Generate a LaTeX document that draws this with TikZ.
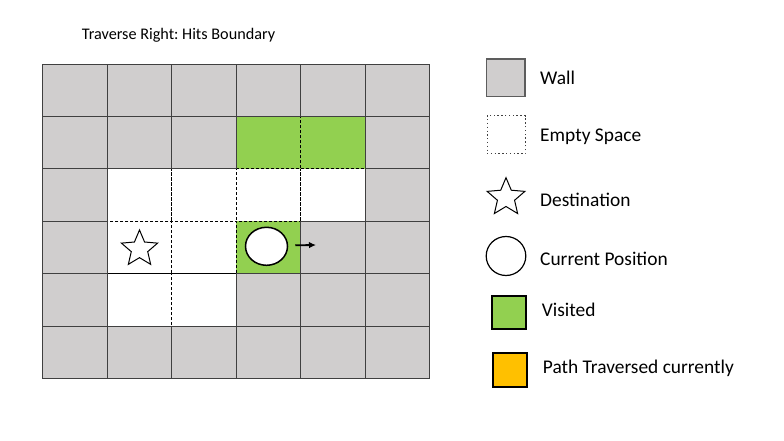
\documentclass[tikz,border=0pt]{standalone}
\usepackage{fontspec}
\setmainfont{Carlito}
\usetikzlibrary{shapes.geometric,arrows.meta}
\definecolor{wallgray}{HTML}{D0CECE}
\definecolor{walledge}{HTML}{404040}
\definecolor{visitgreen}{HTML}{92D050}
\definecolor{pathorange}{HTML}{FFC000}
\frenchspacing
\begin{document}
\begin{tikzpicture}[x=1bp,y=-1bp,
  cellbase/.style={rectangle,inner sep=0pt,outer sep=0pt,minimum width=64.5bp,minimum height=52.4bp},
  wallcell/.style={cellbase,fill=wallgray,draw=walledge,line width=0.9bp},
  emptycell/.style={cellbase,fill=white,draw=black,line width=0.8bp,dash pattern=on 3bp off 2bp},
  visitedcell/.style={cellbase,fill=visitgreen,draw=black,line width=0.8bp,dash pattern=on 3bp off 2bp},
  starmark/.style={star,star points=5,star point ratio=2.2,draw=black,fill=white,line width=1bp,inner sep=0pt,minimum size=38bp},
  posmark/.style={ellipse,draw=black,fill=white,line width=1.5bp,inner sep=0pt},
  legtext/.style={anchor=base west,inner sep=0pt,font=\fontsize{19.4bp}{23bp}\selectfont},
  titletext/.style={anchor=base west,inner sep=0pt,font=\fontsize{16.2bp}{19bp}\selectfont},
]
\useasboundingbox (0,0) rectangle (784,441);
\def\gx{42.5}
\def\gy{64}
\def\cw{64.5}
\def\ch{52.4}
% open cells
\foreach \c/\r in {1/2,2/2,3/2,4/2,1/3,2/3,1/4,2/4}
  \node[emptycell] (cell-\c-\r) at ({\gx+(\c+0.5)*\cw},{\gy+(\r+0.5)*\ch}) {};
\foreach \c/\r in {3/1,4/1,3/3}
  \node[visitedcell] (cell-\c-\r) at ({\gx+(\c+0.5)*\cw},{\gy+(\r+0.5)*\ch}) {};
% walls
\foreach \c/\r in {0/0,1/0,2/0,3/0,4/0,5/0, 0/1,1/1,2/1,5/1, 0/2,5/2, 0/3,4/3,5/3, 0/4,3/4,4/4,5/4, 0/5,1/5,2/5,3/5,4/5,5/5}
  \node[wallcell] (cell-\c-\r) at ({\gx+(\c+0.5)*\cw},{\gy+(\r+0.5)*\ch}) {};
% star and current position
\node[starmark] (dest) at (139.5,249) {};
\node[posmark,minimum width=42bp,minimum height=38bp] (cur) at (266.5,246.3) {};
\coordinate (arrowend) at (316,245);
\draw[line width=1.8bp,-{Latex[length=7bp,width=6.5bp]}] (cur.east) ++(7,-1) coordinate (arrowstart) -- (arrowend);
% title
\node[titletext] (title) at (81.7,39.3) {Traverse Right: Hits Boundary};
% legend
\node[rectangle,minimum width=38.3bp,minimum height=37.7bp,inner sep=0pt,fill=wallgray,draw=walledge!85,line width=1.4bp] (lwall) at (505.8,77.8) {};
\node[legtext] (twall) at (540,85) {Wall};
\node[rectangle,minimum width=38bp,minimum height=38.3bp,inner sep=0pt,draw=black!75,line width=1bp,dash pattern=on 1.3bp off 2.5bp] (lempty) at (506,134.8) {};
\node[legtext] (tempty) at (540,141.7) {Empty Space};
\node[starmark,minimum size=39.6bp] (ldest) at (506,197.5) {};
\node[legtext] (tdest) at (540,206.7) {Destination};
\node[posmark,minimum width=39.6bp,minimum height=39bp,line width=1.2bp] (lcur) at (506,256) {};
\node[legtext] (tcur) at (540,266) {Current Position};
\node[rectangle,minimum width=34.3bp,minimum height=32.7bp,inner sep=0pt,fill=visitgreen,draw=black,line width=2bp] (lvisit) at (508.8,312.3) {};
\node[legtext] (tvisit) at (541.7,316.7) {Visited};
\node[rectangle,minimum width=34.6bp,minimum height=34bp,inner sep=0pt,fill=pathorange,draw=black,line width=2bp] (lpath) at (510,370.3) {};
\node[legtext] (tpath) at (542.7,373.3) {Path Traversed currently};
\end{tikzpicture}
\end{document}
